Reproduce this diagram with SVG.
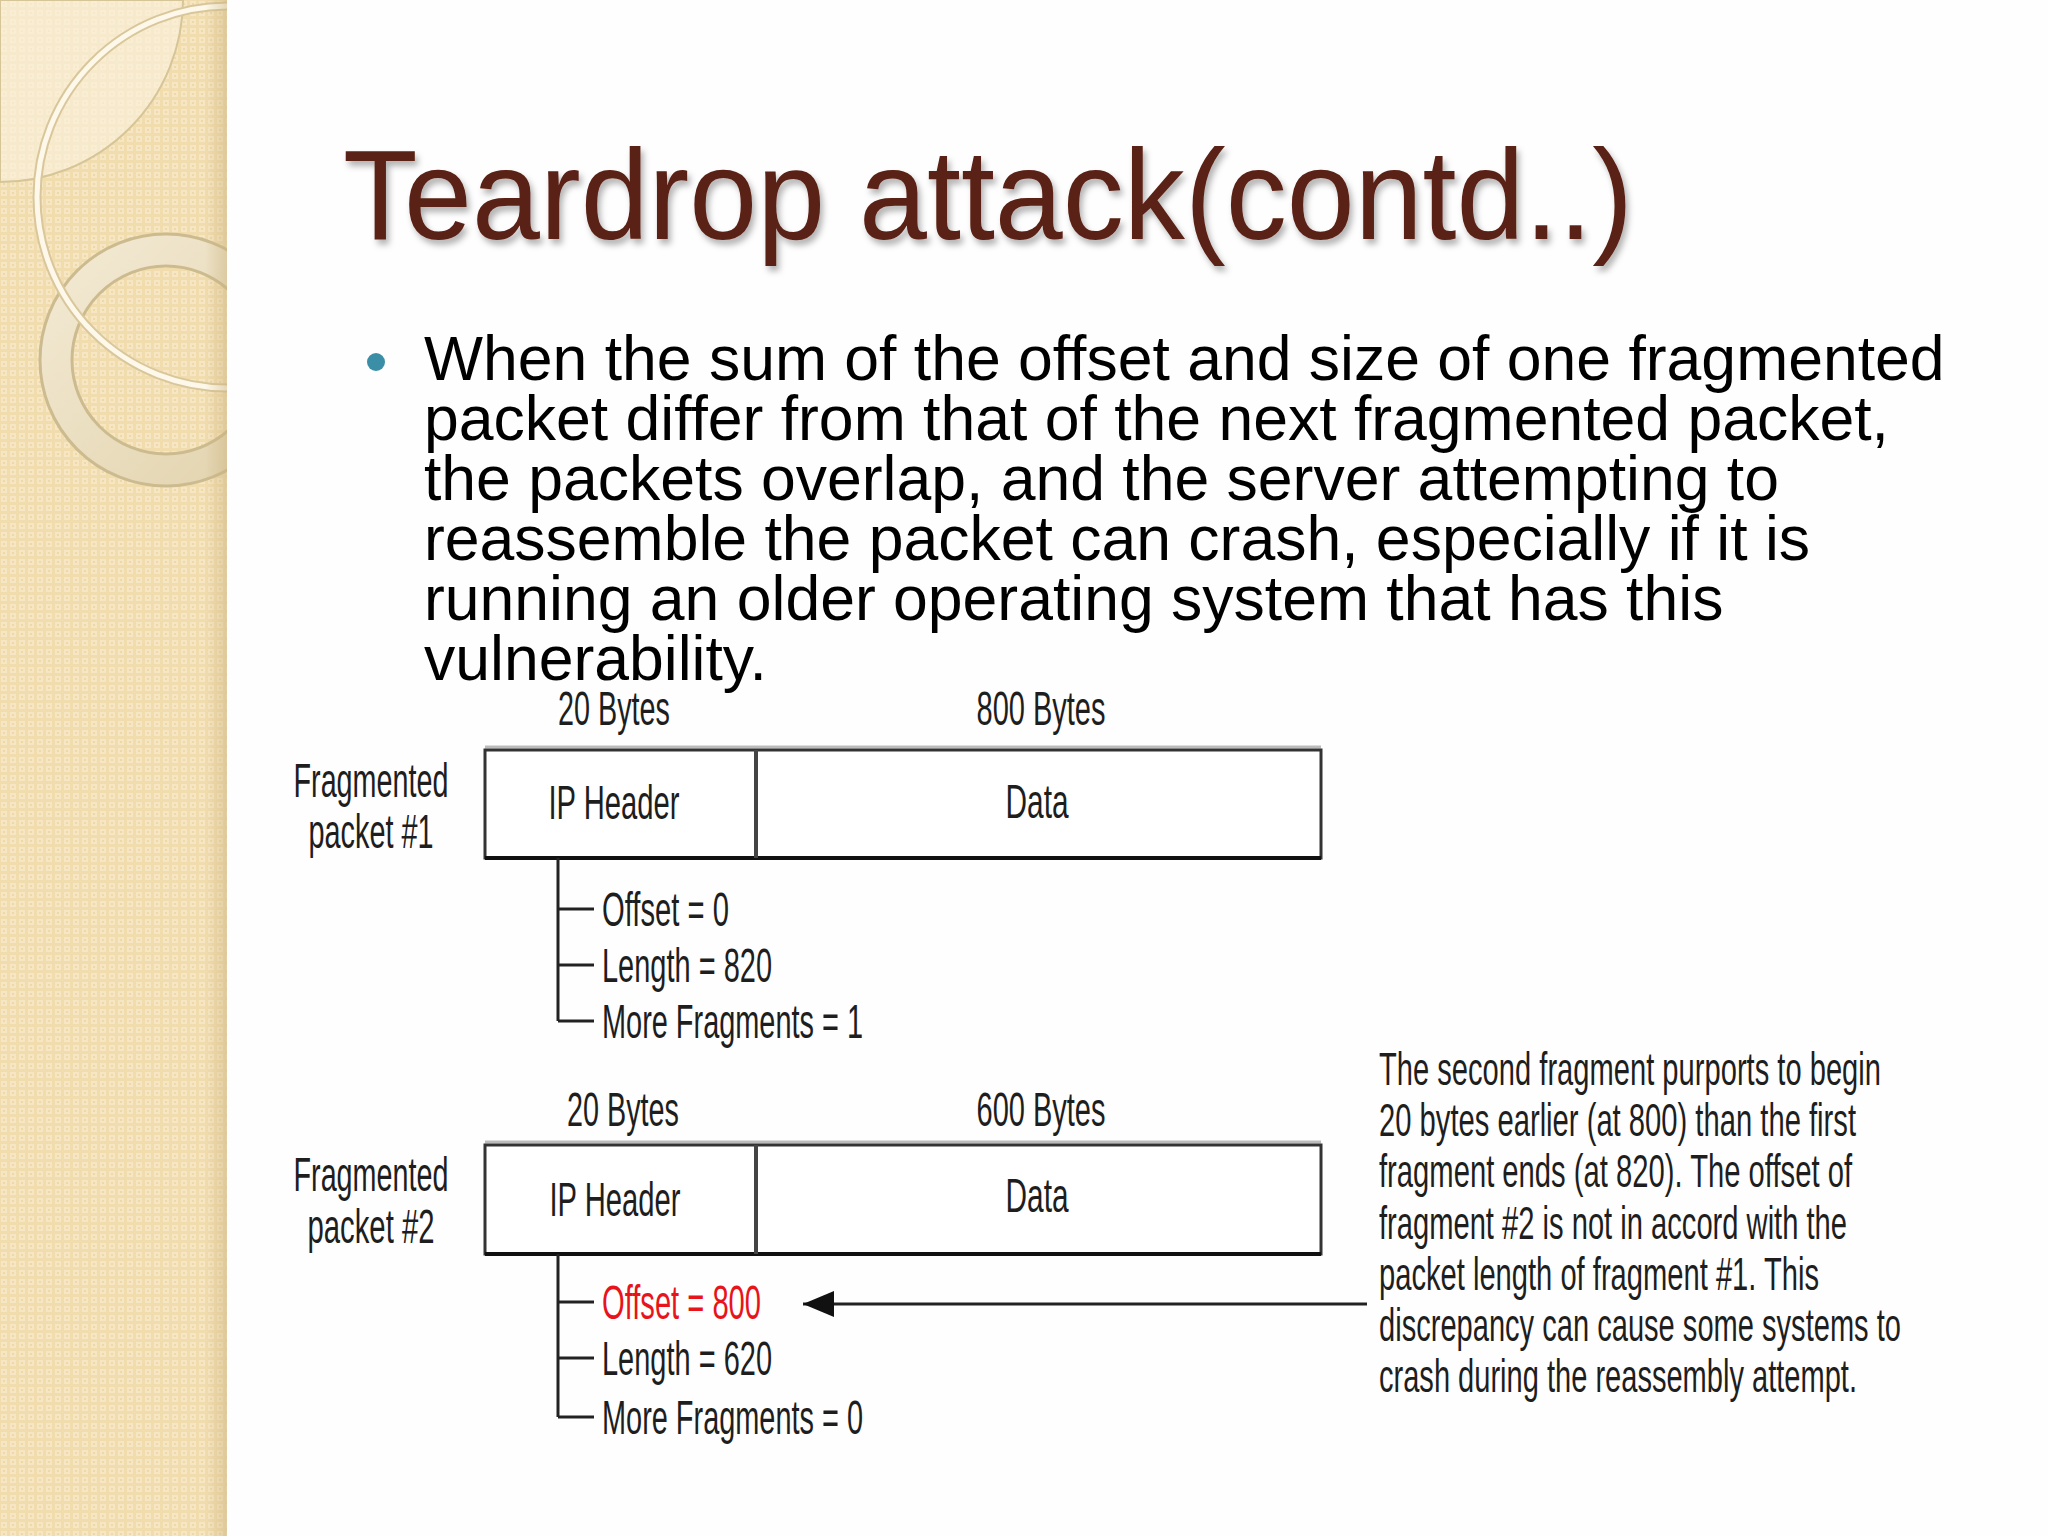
<svg xmlns="http://www.w3.org/2000/svg" width="2048" height="1536" viewBox="0 0 2048 1536">
<defs>
<style>
.title{font-family:"Liberation Sans",Arial,sans-serif;font-size:128px;fill:#5a2014;}
.body{font-family:"Liberation Sans",Arial,sans-serif;font-size:62.5px;fill:#000;}
.lbl{font-family:"Liberation Sans",Arial,sans-serif;font-size:48px;fill:#1e1e1e;}
.note{font-family:"Liberation Sans",Arial,sans-serif;font-size:46px;fill:#1e1e1e;}
.mid{text-anchor:middle;}
.box{fill:#fff;stroke:#333;stroke-width:3;}
.conn{stroke:#222;stroke-width:3;fill:none;}
</style>
<pattern id="chk" x="0" y="0" width="9" height="9" patternUnits="userSpaceOnUse">
<rect width="9" height="9" fill="#f1dcae"/>
<rect x="1" y="1" width="6" height="6" fill="#f6e6c3"/>
<rect x="3" y="3" width="2" height="2" fill="#eed8a8"/>
</pattern>
<linearGradient id="edge" x1="0" y1="0" x2="1" y2="0">
<stop offset="0" stop-color="#c9b07a" stop-opacity="0"/>
<stop offset="1" stop-color="#c9b07a" stop-opacity="0.45"/>
</linearGradient>
<linearGradient id="ringg" x1="0" y1="0" x2="1" y2="1">
<stop offset="0" stop-color="#f3ead4"/>
<stop offset="1" stop-color="#e2d3ad"/>
</linearGradient>
<clipPath id="pclip"><rect x="0" y="0" width="227" height="1536"/></clipPath>
<filter id="tsh" x="-5%" y="-20%" width="110%" height="150%">
<feDropShadow dx="3" dy="5" stdDeviation="3" flood-color="#000" flood-opacity="0.3"/>
</filter>
<marker id="ah" markerWidth="32" markerHeight="26" refX="31" refY="13" orient="auto" markerUnits="userSpaceOnUse">
<path d="M0,0 L31,13 L0,26 Z" fill="#111"/>
</marker>
</defs>
<rect width="2048" height="1536" fill="#fefefe"/>
<g id="panel" clip-path="url(#pclip)">
<rect x="0" y="0" width="227" height="1536" fill="url(#chk)"/>
<path d="M0,0 H183 A183,183 0 0 1 0,182 Z" fill="#fbf3e0" fill-opacity="0.6" stroke="#d6c597" stroke-width="2"/>
<circle cx="166" cy="360" r="110" fill="none" stroke="#cdbb90" stroke-width="35"/>
<circle cx="166" cy="360" r="110" fill="none" stroke="url(#ringg)" stroke-width="29"/>
<circle cx="228" cy="197" r="191" fill="none" stroke="#d9c79b" stroke-width="9"/>
<circle cx="228" cy="197" r="191" fill="none" stroke="#fdf8ea" stroke-width="5"/>
<rect x="205" y="0" width="22" height="1536" fill="url(#edge)"/>
</g>
<g id="title">
<text class="title" x="343" y="239" textLength="1290" lengthAdjust="spacingAndGlyphs" filter="url(#tsh)">Teardrop attack(contd..)</text>
</g>
<g id="bullet">
<circle cx="376" cy="362" r="9" fill="#3a8fa6"/>
<text class="body" x="424" y="380">When the sum of the offset and size of one fragmented</text>
<text class="body" x="424" y="440">packet differ from that of the next fragmented packet,</text>
<text class="body" x="424" y="500">the packets overlap, and the server attempting to</text>
<text class="body" x="424" y="560">reassemble the packet can crash, especially if it is</text>
<text class="body" x="424" y="620">running an older operating system that has this</text>
<text class="body" x="424" y="680">vulnerability.</text>
</g>
<g id="packet1">
<text class="lbl mid" x="614" y="725" textLength="112" lengthAdjust="spacingAndGlyphs">20 Bytes</text>
<text class="lbl mid" x="1041" y="725" textLength="129" lengthAdjust="spacingAndGlyphs">800 Bytes</text>
<text class="lbl mid" x="371" y="797" textLength="155" lengthAdjust="spacingAndGlyphs">Fragmented</text>
<text class="lbl mid" x="371" y="848" textLength="125" lengthAdjust="spacingAndGlyphs">packet #1</text>
<line x1="485" y1="747" x2="1321" y2="747" stroke="#bbb" stroke-width="3"/>
<rect class="box" x="485" y="750" width="836" height="108"/>
<line x1="485" y1="858" x2="1321" y2="858" stroke="#111" stroke-width="4"/>
<line x1="756" y1="750" x2="756" y2="858" stroke="#444" stroke-width="4"/>
<text class="lbl mid" x="614" y="819" textLength="131" lengthAdjust="spacingAndGlyphs">IP Header</text>
<text class="lbl mid" x="1037" y="818" textLength="63" lengthAdjust="spacingAndGlyphs">Data</text>
<text class="lbl" x="602" y="926" textLength="127" lengthAdjust="spacingAndGlyphs">Offset = 0</text>
<text class="lbl" x="602" y="982" textLength="170" lengthAdjust="spacingAndGlyphs">Length = 820</text>
<text class="lbl" x="602" y="1038" textLength="261" lengthAdjust="spacingAndGlyphs">More Fragments = 1</text>
</g>
<g id="packet2">
<text class="lbl mid" x="623" y="1126" textLength="112" lengthAdjust="spacingAndGlyphs">20 Bytes</text>
<text class="lbl mid" x="1041" y="1126" textLength="129" lengthAdjust="spacingAndGlyphs">600 Bytes</text>
<text class="lbl mid" x="371" y="1191" textLength="155" lengthAdjust="spacingAndGlyphs">Fragmented</text>
<text class="lbl mid" x="371" y="1243" textLength="127" lengthAdjust="spacingAndGlyphs">packet #2</text>
<line x1="485" y1="1142" x2="1321" y2="1142" stroke="#bbb" stroke-width="3"/>
<rect class="box" x="485" y="1145" width="836" height="109"/>
<line x1="485" y1="1254" x2="1321" y2="1254" stroke="#111" stroke-width="4"/>
<line x1="756" y1="1145" x2="756" y2="1254" stroke="#444" stroke-width="4"/>
<text class="lbl mid" x="615" y="1216" textLength="131" lengthAdjust="spacingAndGlyphs">IP Header</text>
<text class="lbl mid" x="1037" y="1212" textLength="63" lengthAdjust="spacingAndGlyphs">Data</text>
<text class="lbl" x="602" y="1319" textLength="159" lengthAdjust="spacingAndGlyphs" style="fill:#e8141b">Offset = 800</text>
<text class="lbl" x="602" y="1375" textLength="170" lengthAdjust="spacingAndGlyphs">Length = 620</text>
<text class="lbl" x="602" y="1434" textLength="261" lengthAdjust="spacingAndGlyphs">More Fragments = 0</text>
</g>
<g id="note">
<text class="note" x="1379" y="1085" textLength="502" lengthAdjust="spacingAndGlyphs">The second fragment purports to begin</text>
<text class="note" x="1379" y="1136" textLength="477" lengthAdjust="spacingAndGlyphs">20 bytes earlier (at 800) than the first</text>
<text class="note" x="1379" y="1187" textLength="473" lengthAdjust="spacingAndGlyphs">fragment ends (at 820). The offset of</text>
<text class="note" x="1379" y="1239" textLength="468" lengthAdjust="spacingAndGlyphs">fragment #2 is not in accord with the</text>
<text class="note" x="1379" y="1290" textLength="440" lengthAdjust="spacingAndGlyphs">packet length of fragment #1. This</text>
<text class="note" x="1379" y="1341" textLength="522" lengthAdjust="spacingAndGlyphs">discrepancy can cause some systems to</text>
<text class="note" x="1379" y="1392" textLength="478" lengthAdjust="spacingAndGlyphs">crash during the reassembly attempt.</text>
</g>
<g id="connectors">
<path class="conn" d="M558,858 V1021 M558,909 H594 M558,965 H594 M558,1021 H594"/>
<path class="conn" d="M558,1254 V1417 M558,1302 H594 M558,1358 H594 M558,1417 H594"/>
<line class="conn" x1="1367" y1="1304" x2="803" y2="1304" marker-end="url(#ah)"/>
</g>
</svg>
